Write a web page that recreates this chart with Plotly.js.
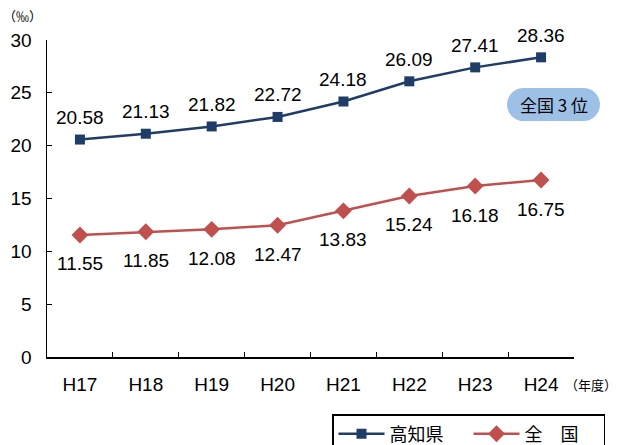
<!DOCTYPE html>
<html>
<head>
<meta charset="utf-8">
<script src="https://cdn.plot.ly/plotly-3.0.1.min.js"></script>
<style>html,body{margin:0;padding:0;background:#fff;}</style>
</head>
<body>
<div id="chart" style="width:624px;height:445px;"></div>
<script>
const years = ['H17','H18','H19','H20','H21','H22','H23','H24'];
const kochi = [20.58, 21.13, 21.82, 22.72, 24.18, 26.09, 27.41, 28.36];
const national = [11.55, 11.85, 12.08, 12.47, 13.83, 15.24, 16.18, 16.75];
const seriesNames = ['高知県', '全\u3000国'];

const L = 47, R = 574, T = 40, B = 357;
const W = R - L, H = B - T;
const px = x => (x - L) / W;
const py = y => (B - y) / H;

// pill shape for "全国３位"
const x0 = 507, x1 = 600, y0 = 88, y1 = 121, r = 16.5;
const k = 0.55;
const pill = `M ${px(x0 + r)},${py(y0)} L ${px(x1 - r)},${py(y0)} ` +
  `C ${px(x1 - r + r * k)},${py(y0)} ${px(x1)},${py(y0 + r - r * k)} ${px(x1)},${py(y0 + r)} ` +
  `C ${px(x1)},${py(y1 - r + r * k)} ${px(x1 - r + r * k)},${py(y1)} ${px(x1 - r)},${py(y1)} ` +
  `L ${px(x0 + r)},${py(y1)} ` +
  `C ${px(x0 + r - r * k)},${py(y1)} ${px(x0)},${py(y1 - r + r * k)} ${px(x0)},${py(y1 - r)} ` +
  `C ${px(x0)},${py(y0 + r - r * k)} ${px(x0 + r - r * k)},${py(y0)} ${px(x0 + r)},${py(y0)} Z`;

const numFont = {family: 'Liberation Sans, Arial, sans-serif', size: 19, color: '#000'};
const jpFont = 'Noto Sans CJK JP, sans-serif';

const traces = [
  {
    x: years, y: kochi, name: seriesNames[0], type: 'scatter', mode: 'lines+markers',
    line: {color: '#1F3D66', width: 2.5},
    marker: {symbol: 'square', size: 10, color: '#1F3D66'},
    cliponaxis: false
  },
  {
    x: years, y: national, name: seriesNames[1], type: 'scatter', mode: 'lines+markers',
    line: {color: '#C0504D', width: 2.5},
    marker: {symbol: 'diamond', size: 13, color: '#C0504D'},
    cliponaxis: false
  }
];

const labelAnns = [];
years.forEach((yr, i) => {
  labelAnns.push({x: yr, y: kochi[i], xref: 'x', yref: 'y', text: kochi[i].toFixed(2),
    showarrow: false, xanchor: 'center', yanchor: 'middle', yshift: 22, font: numFont});
  labelAnns.push({x: yr, y: national[i], xref: 'x', yref: 'y', text: national[i].toFixed(2),
    showarrow: false, xanchor: 'center', yanchor: 'middle', yshift: -29, font: numFont});
});

const layout = {
  width: 624, height: 445,
  margin: {l: L, r: 624 - R, t: T, b: 445 - B, autoexpand: false},
  paper_bgcolor: '#fff', plot_bgcolor: '#fff',
  showlegend: true,
  legend: {
    orientation: 'h', x: px(332), y: py(414), xanchor: 'left', yanchor: 'top',
    bordercolor: '#000', borderwidth: 1.5,
    font: {family: jpFont, size: 18, color: '#000'},
    itemwidth: 46, entrywidth: 74, tracegroupgap: 0
  },
  xaxis: {
    type: 'category', tickson: 'boundaries', ticks: 'inside', ticklen: 5, tickcolor: '#000',
    showline: true, linecolor: '#000', linewidth: 1.5, showgrid: false, zeroline: false,
    tickfont: numFont, range: [-0.5, 7.5], fixedrange: true, ticklabelstandoff: 10
  },
  yaxis: {
    range: [0, 30], dtick: 5, ticks: 'inside', ticklen: 5, tickcolor: '#000',
    showline: true, linecolor: '#000', linewidth: 1.5, showgrid: false, zeroline: false,
    tickfont: numFont, ticklabelstandoff: 10
  },
  shapes: [
    {type: 'path', xref: 'paper', yref: 'paper', path: pill,
     fillcolor: '#9DC0E6', line: {width: 0}, layer: 'above'}
  ],
  annotations: labelAnns.concat([
    {text: '（‰）', xref: 'paper', yref: 'paper', x: px(22), y: py(15), showarrow: false,
     xanchor: 'center', yanchor: 'middle', font: {family: jpFont, size: 13, color: '#000'}},
    {text: '（年度）', xref: 'paper', yref: 'paper', x: px(591), y: py(384), showarrow: false,
     xanchor: 'center', yanchor: 'middle', font: {family: jpFont, size: 13, color: '#000'}},
    {text: '全国 3 位', xref: 'paper', yref: 'paper', x: px(553.5), y: py(104.5), showarrow: false,
     xanchor: 'center', yanchor: 'middle', font: {family: jpFont, size: 17, color: '#000'}}
  ])
};

Plotly.newPlot('chart', traces, layout, {displayModeBar: false, staticPlot: true});
</script>
</body>
</html>
